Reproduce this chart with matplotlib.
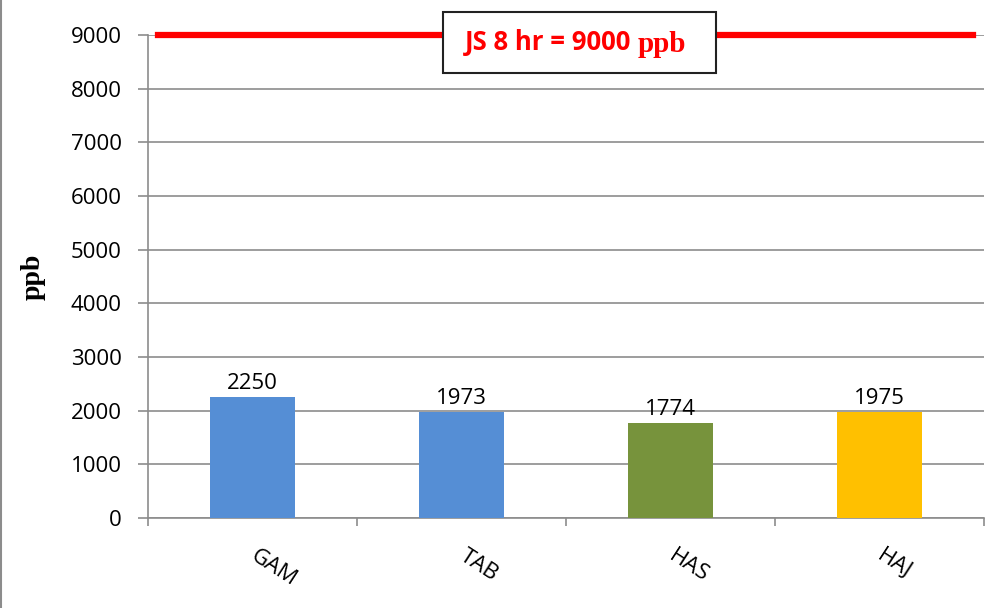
import matplotlib.pyplot as plt
from matplotlib.patches import Rectangle
from matplotlib.lines import Line2D

sites = ["GAM", "TAB", "HAS", "HAJ"]
values = [2250, 1973, 1774, 1975]
colors = ["#558ED5", "#558ED5", "#77933C", "#FFC000"]
limit_value = 9000
yticks = list(range(0, 9001, 1000))

plt.rcParams["font.family"] = ["Open Sans", "DejaVu Sans"]

fig = plt.figure(figsize=(9.93, 6.08), dpi=100)
ax = fig.add_axes([148 / 993, 1 - 518 / 608, (984 - 148) / 993, (518 - 35) / 608])

x = range(len(sites))
ax.bar(x, values, width=0.41, color=colors, zorder=3)
for xi, v in zip(x, values):
    ax.annotate(str(v), (xi, v), xytext=(0, 2), textcoords="offset points",
                ha="center", va="bottom", fontsize=16, color="black")

# limit line
ax.axhline(limit_value, xmin=0.012, xmax=0.987, color="#FF0000", lw=4.5,
           zorder=4, clip_on=False)

ax.set_xlim(-0.5, len(sites) - 0.5)
ax.set_ylim(0, 9000)
ax.set_yticks(yticks)
ax.set_yticklabels([str(t) for t in yticks], fontsize=16)
ax.yaxis.grid(True, color="#8c8c8c", lw=1.2, zorder=0)
ax.set_axisbelow(True)

ax.set_xticks(list(x))
ax.set_xticklabels(sites, fontsize=16, rotation=-33, ha="left", va="center",
                   rotation_mode="anchor")
ax.tick_params(axis="x", which="major", length=0, pad=26)
ax.set_xticks([i - 0.5 for i in range(len(sites) + 1)], minor=True)
ax.tick_params(axis="x", which="minor", length=6, color="#8c8c8c", width=1.2)
ax.tick_params(axis="y", length=7, color="#8c8c8c", width=1.2, pad=12)

for s in ["top", "right"]:
    ax.spines[s].set_visible(False)
for s in ["left", "bottom"]:
    ax.spines[s].set_color("#8c8c8c")
    ax.spines[s].set_linewidth(1.2)

ax.set_ylabel("ppb", family="Liberation Serif", fontweight="bold",
              fontsize=20, labelpad=18)

# limit label box
bx0, by0, bw, bh = 443 / 993, 1 - 73 / 608, 273 / 993, 61 / 608
fig.add_artist(Rectangle((bx0, by0), bw, bh, transform=fig.transFigure,
                         facecolor="white", edgecolor="#222222", lw=1.5,
                         zorder=10))
fig.text(465 / 993, by0 + bh / 2, "JS 8 hr = 9000", color="#FF0000",
         fontsize=18.5, fontweight="bold", ha="left", va="center", zorder=11)
fig.text(638 / 993, by0 + bh / 2 - 0.003, "ppb", color="#FF0000",
         family="Liberation Serif", fontsize=21, fontweight="bold",
         ha="left", va="center", zorder=11)

# chart border on left edge
fig.add_artist(Line2D([0.0015, 0.0015], [0, 1], transform=fig.transFigure,
                      color="#8c8c8c", lw=1.5))

fig.savefig("out.png", dpi=100)
